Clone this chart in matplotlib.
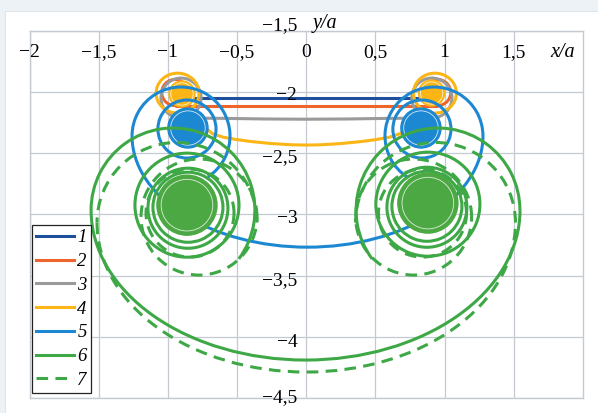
import matplotlib
matplotlib.use("Agg")
import matplotlib.pyplot as plt
from matplotlib.patches import Arc, Ellipse, Rectangle
from matplotlib.lines import Line2D
from matplotlib.transforms import offset_copy

plt.rcParams['font.family'] = ['Liberation Serif', 'DejaVu Serif']

# ---- axes ticks -----------------------------------------------------------
x_ticks = [-2.0, -1.5, -1.0, -0.5, 0.0, 0.5, 1.0, 1.5]
x_tick_labels = ['−2', '−1,5', '−1', '−0,5', '0', '0,5', '1', '1,5']
y_ticks = [-1.5, -2.0, -2.5, -3.0, -3.5, -4.0, -4.5]
y_tick_labels = ['−1,5', '−2', '−2,5', '−3', '−3,5', '−4', '−4,5']

series_names = ['1', '2', '3', '4', '5', '6', '7']
series_colors = ['#1d4f9c', '#ee6429', '#9a9a9a', '#fbb515',
                 '#1d88d2', '#3ea847', '#3ea847']

# ---- trajectory 1 ---------------------------------------------------------
line1_x = [-0.90, 0.90]
line1_y = [-2.047, -2.047]

# ---- trajectory 2 ---------------------------------------------------------
line2_x = [-0.95, 0.95]
line2_y = [-2.115, -2.115]
loops2 = [(-0.95, -2.005, 0.094, 0.106), (0.95, -2.005, 0.094, 0.106)]

# ---- trajectory 3 ---------------------------------------------------------
line3_x = [-0.905, -0.60, -0.30, 0.0, 0.30, 0.60, 0.908]
line3_y = [-2.213, -2.216, -2.221, -2.223, -2.221, -2.216, -2.213]
loops3 = [(-0.905, -2.050, 0.145, 0.163), (0.908, -2.050, 0.145, 0.163)]

# ---- trajectory 4 ---------------------------------------------------------
line4_x = [-0.80, -0.74, -0.68, -0.60, -0.50, -0.40, -0.25, -0.10, 0.0,
           0.10, 0.25, 0.40, 0.50, 0.60, 0.68, 0.74, 0.80]
line4_y = [-2.18, -2.28, -2.34, -2.37, -2.39, -2.405, -2.422, -2.432, -2.434,
           -2.432, -2.422, -2.405, -2.39, -2.37, -2.34, -2.28, -2.18]
loops4 = [(-0.93, -2.010, 0.155, 0.163), (0.93, -2.010, 0.155, 0.163)]
cores4 = [(-0.898, -2.017, 0.094, 0.106), (0.906, -2.009, 0.094, 0.106)]

# ---- trajectory 5 ---------------------------------------------------------
arcs5 = [(-0.905, -2.360, 0.354, 0.400, -60, 180),
         (0.923, -2.360, 0.354, 0.400, 0, 240),
         (0.009, -2.360, 1.268, 0.908, 180, 360)]
loops5 = [(-0.862, -2.303, 0.210, 0.237), (0.836, -2.303, 0.210, 0.237)]
cores5 = [(-0.855, -2.295, 0.145, 0.163), (0.829, -2.295, 0.145, 0.163)]

# ---- trajectory 6 ---------------------------------------------------------
arcs6 = [(-0.963, -2.965, 0.592, 0.670, -40, 180),
         (0.952, -2.965, 0.592, 0.670, 0, 220),
         (-0.005, -2.965, 1.550, 1.225, 180, 360)]
loops6 = [(-0.862, -2.925, 0.376, 0.425), (-0.855, -2.950, 0.289, 0.327),
          (-0.855, -2.942, 0.253, 0.286),
          (0.879, -2.917, 0.376, 0.425), (0.872, -2.942, 0.289, 0.327),
          (0.872, -2.934, 0.253, 0.286)]
cores6 = [(-0.862, -2.925, 0.217, 0.245), (0.879, -2.908, 0.217, 0.245)]

# ---- trajectory 7 ---------------------------------------------------------
arcs7 = [(-0.934, -3.067, 0.578, 0.654, 0, 180),
         (0.934, -3.067, 0.578, 0.654, 0, 180),
         (0.0, -3.067, 1.512, 1.221, 180, 360)]
loops7 = [(-0.775, -3.022, 0.419, 0.474), (-0.840, -2.990, 0.318, 0.359),
          (0.776, -3.022, 0.419, 0.474), (0.840, -2.990, 0.318, 0.359)]

# ---------------------------------------------------------------------------
LW = 2.2
DASH = (0, (3.8, 2.4))

fig = plt.figure(figsize=(5.98, 4.13), dpi=100)
fig.patch.set_facecolor('#edf2f7')
panel = Rectangle((5 / 598, 0), 1, 1 - 11 / 413, transform=fig.transFigure,
                  facecolor='white', edgecolor='#dfe5ea', lw=0.8, zorder=-10)
fig.add_artist(panel)

ax = fig.add_axes([29.5 / 598, 15 / 413, 553.5 / 598, 367.3 / 413])
ax.set_zorder(1)
ax.set_xlim(-2, 2)
ax.set_ylim(-4.5, -1.5)
ax.set_xticks(x_ticks)
ax.set_yticks(y_ticks)
ax.tick_params(length=0, labelbottom=False, labelleft=False)
ax.grid(True, color='#c4cad0', lw=0.9)
ax.set_axisbelow(True)
for sp in ax.spines.values():
    sp.set_color('#c4cad0')
    sp.set_linewidth(1.0)


def draw_arcs(items, color, z, ls='-'):
    for cx, cy, rx, ry, t1, t2 in items:
        ax.add_patch(Arc((cx, cy), 2 * rx, 2 * ry, theta1=t1, theta2=t2,
                         color=color, lw=LW, linestyle=ls, zorder=z))


def draw_rings(items, color, z, ls='-'):
    for cx, cy, rx, ry in items:
        ax.add_patch(Arc((cx, cy), 2 * rx, 2 * ry, theta1=0, theta2=360,
                         color=color, lw=LW, linestyle=ls, zorder=z))


def draw_cores(items, color, z):
    for cx, cy, rx, ry in items:
        ax.add_patch(Ellipse((cx, cy), 2 * rx, 2 * ry, facecolor=color,
                             edgecolor=color, lw=1.0, zorder=z))
        ax.add_patch(Ellipse((cx, cy), 1.72 * rx, 1.72 * ry, facecolor='none',
                             edgecolor='white', lw=0.6, alpha=0.8, zorder=z))


c = series_colors
ax.plot(line1_x, line1_y, color=c[0], lw=LW, zorder=3, solid_capstyle='butt')

ax.plot(line2_x, line2_y, color=c[1], lw=LW, zorder=4, solid_capstyle='butt')
draw_rings(loops2, c[1], 4)

ax.plot(line3_x, line3_y, color=c[2], lw=LW, zorder=5, solid_capstyle='butt')
draw_rings(loops3, c[2], 5)

ax.plot(line4_x, line4_y, color=c[3], lw=LW, zorder=6, solid_capstyle='butt')
draw_rings(loops4, c[3], 6)
draw_cores(cores4, c[3], 6)

draw_arcs(arcs5, c[4], 7)
draw_rings(loops5, c[4], 7)
draw_cores(cores5, c[4], 7)

draw_arcs(arcs6, c[5], 8)
draw_rings(loops6, c[5], 8)
draw_cores(cores6, '#4ca843', 8)

draw_arcs(arcs7, c[6], 9, ls=DASH)
draw_rings(loops7, c[6], 9, ls=DASH)

# tick labels drawn inside the frame, along the top edge and the y axis
for xv, lab in zip(x_ticks, x_tick_labels):
    tr = offset_copy(ax.transData, fig=fig, x=0, y=-26, units='dots')
    ax.text(xv, -1.5, lab, transform=tr, ha='center', va='baseline',
            fontsize=14, zorder=20, clip_on=False)

y_label_drop = [-1, 8, 9, 9, 10, 10, 4]
for yv, lab, dy in zip(y_ticks, y_tick_labels, y_label_drop):
    tr = offset_copy(ax.transData, fig=fig, x=-9, y=-dy, units='dots')
    ax.text(0.0, yv, lab, transform=tr, ha='right', va='baseline',
            fontsize=14, zorder=20, clip_on=False)

tr = offset_copy(ax.transData, fig=fig, x=0, y=-26, units='dots')
ax.text(1.76, -1.5, 'x/a', transform=tr, ha='left', va='baseline',
        fontsize=14.5, style='italic', zorder=20)
tr = offset_copy(ax.transData, fig=fig, x=0, y=3, units='dots')
ax.text(0.048, -1.5, 'y/a', transform=tr, ha='left', va='baseline',
        fontsize=14.5, style='italic', zorder=20, clip_on=False)

handles = [Line2D([], [], color=c[i], lw=LW) for i in range(6)]
handles.append(Line2D([], [], color=c[6], lw=LW, linestyle=DASH))
leg = ax.legend(handles, series_names, loc='lower left',
                bbox_to_anchor=(0.0045, 0.0136), borderaxespad=0,
                prop={'family': 'Liberation Serif', 'style': 'italic', 'size': 13.5},
                handlelength=2.0, handletextpad=0.2, borderpad=0.22,
                labelspacing=0.354, fancybox=False, framealpha=1,
                edgecolor='#222222')
leg.get_frame().set_linewidth(0.9)
leg.set_zorder(30)

fig.savefig('out.png', dpi=100, facecolor=fig.get_facecolor())
